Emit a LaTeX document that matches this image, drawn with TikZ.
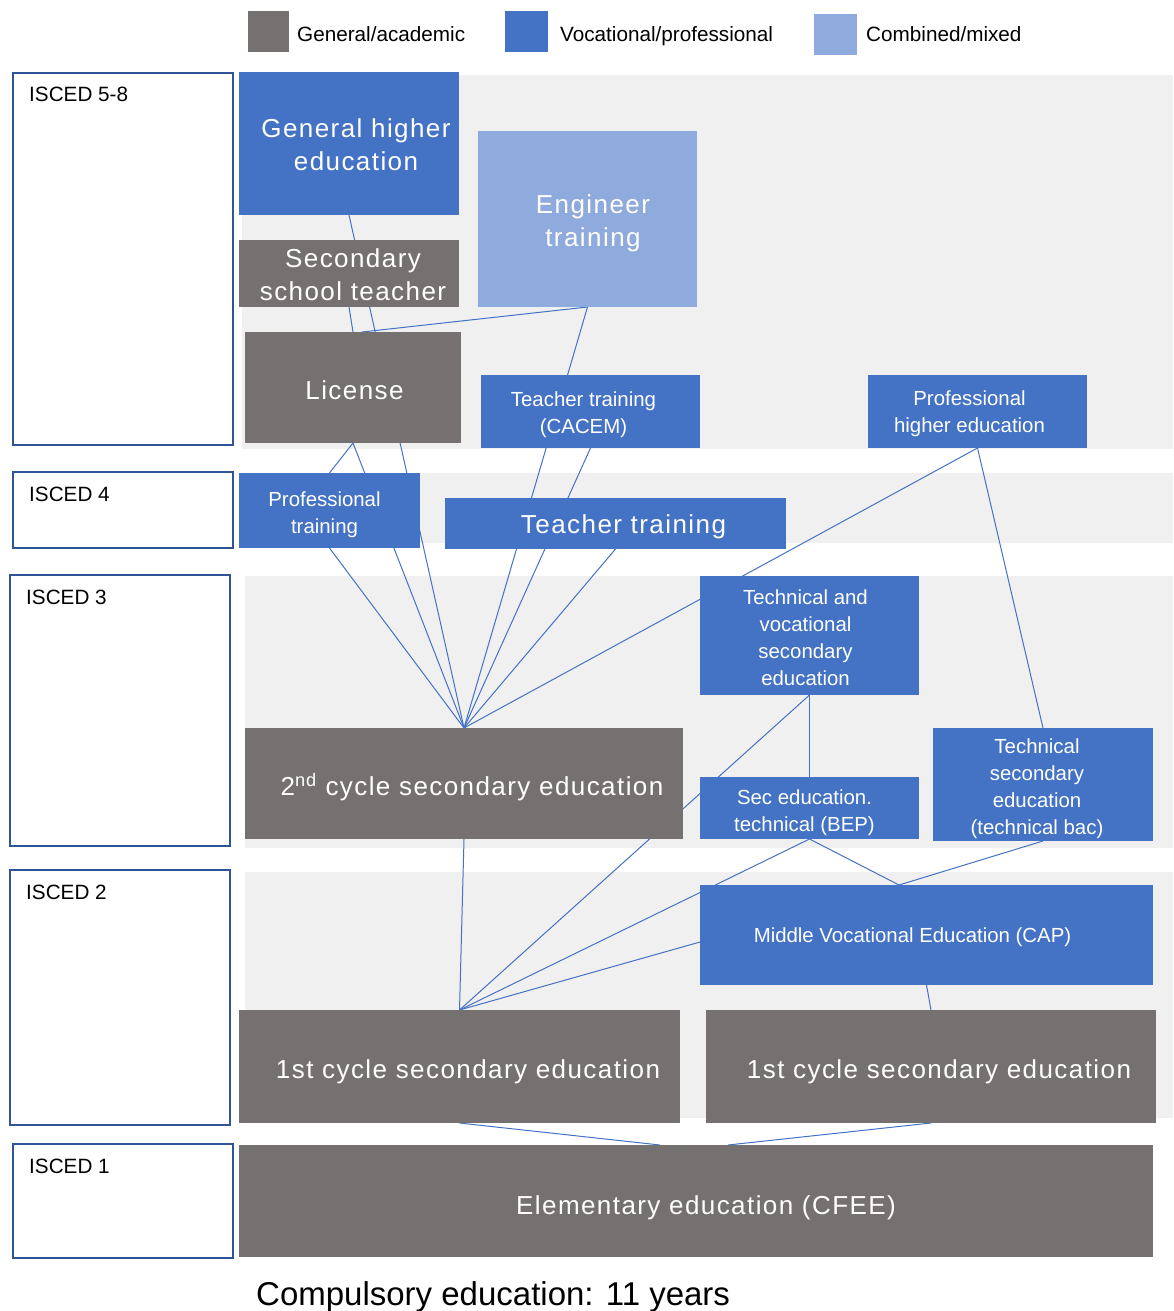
\documentclass[tikz,border=0pt]{standalone}
\usepackage{fontspec}
\setmainfont{Liberation Sans}
\newfontfamily\spfont[LetterSpace=5.5]{Liberation Sans}
\usetikzlibrary{backgrounds}
\definecolor{gengray}{HTML}{767171}
\definecolor{vocblue}{HTML}{4472C4}
\definecolor{mixblue}{HTML}{8FAADC}
\definecolor{bandgray}{HTML}{F0F0F0}
\definecolor{iscedblue}{HTML}{2F5597}
\begin{document}
\begin{tikzpicture}[x=1pt,y=-1pt,
  box/.style={inner sep=0pt, outer sep=0pt},
  gen/.style={box, fill=gengray},
  voc/.style={box, fill=vocblue},
  mix/.style={box, fill=mixblue},
  txt/.style={inner sep=0pt, text=white, align=center},
  bigtxt/.style={txt, font=\spfont\fontsize{26}{33}\selectfont},
  smalltxt/.style={txt, font=\fontsize{20.4}{27}\selectfont},
  conn/.style={draw=vocblue, line width=1pt},
  isced/.style={draw=iscedblue, line width=1.8pt, fill=white, inner sep=0pt, outer sep=0pt},
  lab/.style={anchor=base west, inner sep=0pt, font=\fontsize{20.7}{24}\selectfont},
  legsq/.style={inner sep=0pt, outer sep=0pt, minimum width=41pt, minimum height=41pt}
]
\useasboundingbox (0,0) rectangle (1173,1311);

% legend
\node[legsq, fill=gengray] (lg1) at (268,32) {};
\node[lab] (lt1) at (297,42) {General/academic};
\node[legsq, fill=vocblue, minimum width=43pt] (lg2) at (526.5,32) {};
\node[lab] (lt2) at (560,42) {Vocational/professional};
\node[legsq, fill=mixblue, minimum width=43pt] (lg3) at (835.5,35) {};
\node[lab] (lt3) at (866,42) {Combined/mixed};

% ISCED level boxes
\node[isced, minimum width=220pt, minimum height=372pt] (i58) at (123,259) {};
\node[lab] (l58) at (29,102) {ISCED 5-8};
\node[isced, minimum width=220pt, minimum height=76pt] (i4) at (123,510) {};
\node[lab] (l4) at (29,501) {ISCED 4};
\node[isced, minimum width=220pt, minimum height=271pt] (i3) at (120,710.5) {};
\node[lab] (l3) at (26,604) {ISCED 3};
\node[isced, minimum width=220pt, minimum height=255pt] (i2) at (120,997.5) {};
\node[lab] (l2) at (26,899) {ISCED 2};
\node[isced, minimum width=220pt, minimum height=114pt] (i1) at (123,1201) {};
\node[lab] (l1) at (29,1173) {ISCED 1};

% boxes
\node[voc, minimum width=220pt, minimum height=143pt] (ghe) at (349,143.5) {};
\node[bigtxt] (gheT) at ([shift={(7,1)}]ghe.center) {General higher\\education};
\node[gen, minimum width=220pt, minimum height=67pt] (sst) at (349,273.5) {};
\node[bigtxt] (sstT) at ([shift={(4,1)}]sst.center) {Secondary\\school teacher};
\node[mix, minimum width=219pt, minimum height=176pt] (eng) at (587.5,219) {};
\node[bigtxt] (engT) at ([shift={(5.5,4)}]eng.center) {Engineer\\training};
\node[gen, minimum width=216pt, minimum height=111pt] (lic) at (353,387.5) {};
\node[bigtxt] (licT) at ([shift={(1.5,3)}]lic.center) {License};
\node[voc, minimum width=219pt, minimum height=73pt] (cacem) at (590.5,411.5) {};
\node[smalltxt] (cacemT) at ([shift={(-7,3)}]cacem.center) {Teacher training\\(CACEM)};
\node[voc, minimum width=219pt, minimum height=73pt] (phe) at (977.5,411.5) {};
\node[smalltxt] (pheT) at ([shift={(-8,2)}]phe.center) {Professional\\higher education};
\node[voc, minimum width=181pt, minimum height=75pt] (pt) at (329.5,510.5) {};
\node[smalltxt] (ptT) at ([shift={(-5,4)}]pt.center) {Professional\\training};
\node[voc, minimum width=341pt, minimum height=51pt] (tt) at (615.5,523.5) {};
\node[bigtxt] (ttT) at ([shift={(8,3)}]tt.center) {Teacher training};
\node[voc, minimum width=219pt, minimum height=119pt] (tvs) at (809.5,635.5) {};
\node[smalltxt] (tvsT) at ([shift={(-4,2)}]tvs.center) {Technical and\\vocational\\secondary\\education};
\node[gen, minimum width=438pt, minimum height=111pt] (c2) at (464,783.5) {};
\node[bigtxt] (c2T) at ([shift={(8,4)}]c2.center) {2\textsuperscript{nd} cycle secondary education};
\node[voc, minimum width=219pt, minimum height=62pt] (bep) at (809.5,808) {};
\node[smalltxt] (bepT) at ([shift={(-5,5)}]bep.center) {Sec education.\\technical (BEP)};
\node[voc, minimum width=220pt, minimum height=113pt] (tsec) at (1043,784.5) {};
\node[smalltxt] (tsecT) at ([shift={(-6,4)}]tsec.center) {Technical\\secondary\\education\\(technical bac)};
\node[voc, minimum width=453pt, minimum height=100pt] (cap) at (926.5,935) {};
\node[smalltxt] (capT) at ([shift={(-14,2)}]cap.center) {Middle Vocational Education (CAP)};
\node[gen, minimum width=441pt, minimum height=113pt] (c1l) at (459.5,1066.5) {};
\node[bigtxt] (c1lT) at ([shift={(8.5,5)}]c1l.center) {1st cycle secondary education};
\node[gen, minimum width=450pt, minimum height=113pt] (c1r) at (931,1066.5) {};
\node[bigtxt] (c1rT) at ([shift={(8,5)}]c1r.center) {1st cycle secondary education};
\node[gen, minimum width=914pt, minimum height=112pt] (elem) at (696,1201) {};
\node[bigtxt] (elemT) at ([shift={(10,7)}]elem.center) {Elementary education (CFEE)};

\node[anchor=base west, inner sep=0pt, font=\fontsize{33}{38}\selectfont] (comp) at (256,1305) {Compulsory education: 11 years};

\begin{scope}[on background layer]
  % bands
  \fill[bandgray] (242,75) rectangle (1173,449);
  \fill[bandgray] (242,473) rectangle (1173,543);
  \fill[bandgray] (245,576) rectangle (1173,848);
  \fill[bandgray] (245,872) rectangle (1173,1118);
  % connectors
  \draw[conn] (ghe.south) -- (c2.north);
  \draw[conn] (sst.south) -- (lic.north);
  \draw[conn] (eng.south) -- ([xshift=9pt]lic.north);
  \draw[conn] (eng.south) -- (c2.north);
  \draw[conn] (lic.south) -- (pt.north);
  \draw[conn] (lic.south) -- (c2.north);
  \draw[conn] (pt.south) -- (c2.north);
  \draw[conn] (cacem.south) -- (c2.north);
  \draw[conn] (tt.south) -- (c2.north);
  \draw[conn] (phe.south) -- (c2.north);
  \draw[conn] (phe.south) -- (tsec.north);
  \draw[conn] (tvs.south) -- (bep.north);
  \draw[conn] (tvs.south) -- (c1l.north);
  \draw[conn] (c2.south) -- (c1l.north);
  \draw[conn] (bep.south) -- (c1l.north);
  \draw[conn] (bep.south) -- ([xshift=-27.5pt]cap.north);
  \draw[conn] (tsec.south) -- ([xshift=-27.5pt]cap.north);
  \draw[conn] ([yshift=-7pt]cap.west) -- (c1l.north);
  \draw[conn] (cap.south) -- (c1r.north);
  \draw[conn] (c1l.south) -- ([xshift=-36pt]elem.north);
  \draw[conn] (c1r.south) -- ([xshift=32pt]elem.north);
\end{scope}
\end{tikzpicture}
\end{document}
